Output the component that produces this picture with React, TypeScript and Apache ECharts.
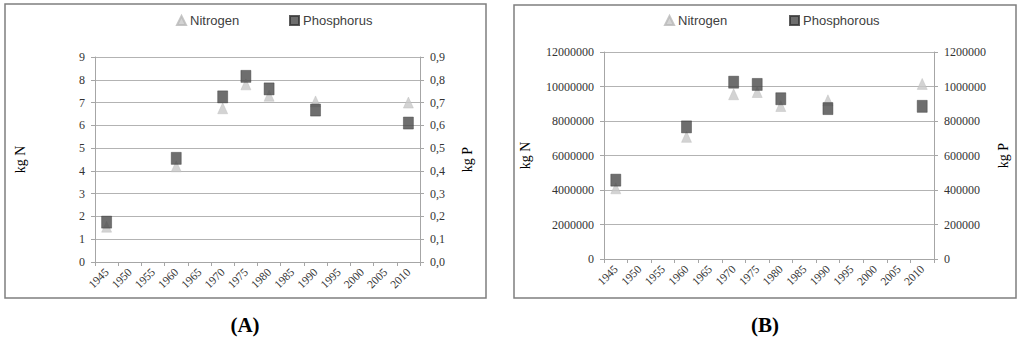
import React, { useEffect, useRef } from "react";
import * as echarts from "echarts";

const years = ["1945", "1950", "1955", "1960", "1965", "1970", "1975", "1980", "1985", "1990", "1995", "2000", "2005", "2010"];
const pointYears = ["1945", "1960", "1970", "1975", "1980", "1990", "2010"];
const nitrogenA = [1.55, 4.2, 6.75, 7.8, 7.3, 7.05, 7.0];
const phosphorusA = [0.175, 0.455, 0.725, 0.815, 0.76, 0.667, 0.61];
const nitrogenB = [4100000, 7080000, 9550000, 9680000, 8870000, 9200000, 10150000];
const phosphorusB = [457000, 766000, 1025000, 1012000, 929000, 872000, 885000];

const SERIF = "'Liberation Serif', 'Times New Roman', serif";
const SANS = "'Liberation Sans', Arial, sans-serif";
const GRID_C = "#b3b3b3";
const AXIS_C = "#a6a6a6";
const N_COLOR = "#c8c8c8";
const P_COLOR = "#4a4a4a";

function pairs(vals: number[]) {
  return pointYears.map((y, i) => [y, vals[i]]);
}

function xAxisFor(gridIndex: number) {
  return {
    type: "category",
    gridIndex,
    data: years,
    boundaryGap: true,
    axisLine: { show: true, lineStyle: { color: AXIS_C, width: 1 } },
    axisTick: { show: true, length: 4, lineStyle: { color: AXIS_C } },
    axisLabel: { rotate: 45, margin: 8, fontFamily: SERIF, fontSize: 11.5, color: "#333333" },
    splitLine: { show: false },
  };
}

function yAxisFor(gridIndex: number, position: string, max: number, interval: number, name: string, nameGap: number, fmt: (v: number) => string, split: boolean) {
  return {
    type: "value",
    gridIndex,
    position,
    min: 0,
    max,
    interval,
    name,
    nameLocation: "middle",
    nameGap,
    nameRotate: 90,
    nameTextStyle: { fontFamily: SERIF, fontSize: 14, color: "#000" },
    axisLine: { show: true, lineStyle: { color: AXIS_C, width: 1 } },
    axisTick: { show: true, length: 4, lineStyle: { color: AXIS_C } },
    axisLabel: { margin: 10, fontFamily: SERIF, fontSize: 12, color: "#333333", formatter: fmt },
    splitLine: { show: split, lineStyle: { color: GRID_C, width: 1 } },
  };
}

function legendAt(name: string, left: number) {
  return {
    data: [name],
    left,
    top: 9,
    itemWidth: 9,
    itemHeight: 9,
    itemGap: 0,
    textStyle: { fontFamily: SANS, fontSize: 13, color: "#404040", padding: [0, 0, 0, -1] },
  };
}

export default function App() {
  const ref = useRef<HTMLDivElement>(null);
  useEffect(() => {
    if (!ref.current) return;
    const chart = echarts.init(ref.current, undefined, { renderer: "svg" });
    const nStyle = { color: N_COLOR, borderColor: "#b8b8b8", borderWidth: 0.5 };
    const pStyle = { color: P_COLOR, borderColor: "#333333", borderWidth: 0.5 };
    const option: any = {
      animation: false,
      backgroundColor: "#ffffff",
      legend: [
        legendAt("Nitrogen", 171),
        legendAt("Phosphorus", 284),
        legendAt("Nitrogen", 659),
        legendAt("Phosphorous", 784),
      ],
      grid: [
        { left: 95, top: 57, width: 325, height: 205 },
        { left: 604, top: 52, width: 330, height: 207 },
      ],
      xAxis: [xAxisFor(0), xAxisFor(1)],
      yAxis: [
        yAxisFor(0, "left", 9, 1, "kg N", 68, (v: number) => String(v), true),
        yAxisFor(0, "right", 0.9, 0.1, "kg P", 40, (v: number) => v.toFixed(1).replace(".", ","), false),
        yAxisFor(1, "left", 12000000, 2000000, "kg N", 72, (v: number) => String(v), true),
        yAxisFor(1, "right", 1200000, 200000, "kg P", 62, (v: number) => String(v), false),
      ],
      series: [
        {
          name: "Nitrogen", type: "scatter", xAxisIndex: 0, yAxisIndex: 0,
          symbol: "triangle", symbolSize: [10, 11],
          itemStyle: nStyle, data: pairs(nitrogenA), z: 2,
        },
        {
          name: "Phosphorus", type: "scatter", xAxisIndex: 0, yAxisIndex: 1,
          symbol: "rect", symbolSize: [10, 12],
          itemStyle: pStyle, data: pairs(phosphorusA), z: 3,
        },
        {
          name: "Nitrogen", type: "scatter", xAxisIndex: 1, yAxisIndex: 2,
          symbol: "triangle", symbolSize: [10, 11],
          itemStyle: nStyle, data: pairs(nitrogenB), z: 2,
        },
        {
          name: "Phosphorous", type: "scatter", xAxisIndex: 1, yAxisIndex: 3,
          symbol: "rect", symbolSize: [10, 12],
          itemStyle: pStyle, data: pairs(phosphorusB), z: 3,
        },
      ],
      graphic: [
        { type: "rect", shape: { x: 5, y: 4, width: 481, height: 294 }, style: { fill: "none", stroke: "#7f7f7f", lineWidth: 1.5 }, silent: true, z: -1 },
        { type: "rect", shape: { x: 514, y: 5, width: 502, height: 293 }, style: { fill: "none", stroke: "#7f7f7f", lineWidth: 1.5 }, silent: true, z: -1 },
        { type: "text", x: 245, y: 325, style: { text: "(A)", fontFamily: SERIF, fontSize: 21, fontWeight: "bold", fill: "#000", textAlign: "center", textVerticalAlign: "middle" } },
        { type: "text", x: 765, y: 325, style: { text: "(B)", fontFamily: SERIF, fontSize: 21, fontWeight: "bold", fill: "#000", textAlign: "center", textVerticalAlign: "middle" } },
      ],
    };
    chart.setOption(option);
    return () => chart.dispose();
  }, []);
  return <div ref={ref} style={{ position: "fixed", left: 0, top: 0, width: 1024, height: 339 }} />;
}
